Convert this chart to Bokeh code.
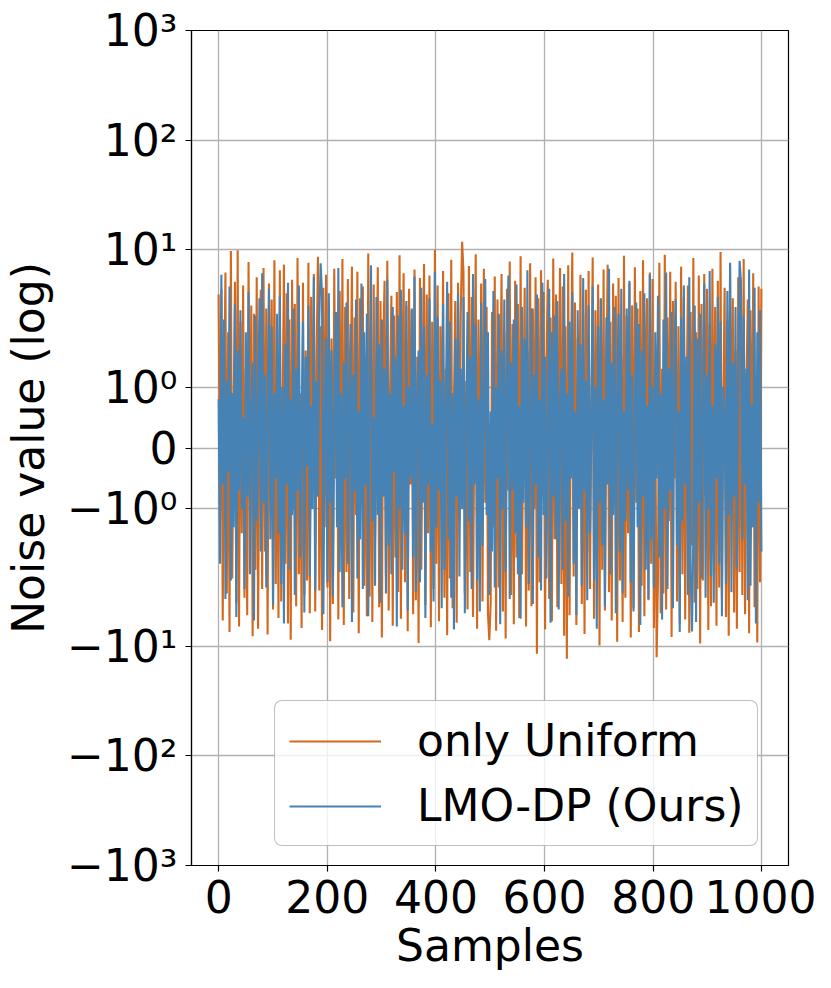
import numpy as np
from bokeh.plotting import figure
from bokeh.models import FixedTicker, CustomJSTickFormatter, Range1d
from bokeh.embed import file_html
from bokeh.resources import INLINE

# ---- data ----
only_uniform = [
    3.9, -1.2, 4.4, -5.8, 0.7, 6.2, -3.3, 1.9, -7.4, 9.7, -2.4, 0.5, 5.1, -4.0, 9.9, -6.6, 2.2, -1.4, 4.7, -3.6,
    1.3, -5.2, 7.7, -0.9, 3.1, -8.1, 2.6, -2.0, 5.6, -6.9, 0.8, 4.3, -3.0, 6.8, -1.7, 2.9, -7.8, 4.9, -0.6, 3.5,
    -4.6, 8.0, -2.7, 1.1, -5.5, 6.5, -3.9, 0.4, 7.3, -1.9, 4.0, -6.2, 2.3, -8.7, 5.3, -1.0, 3.2, -4.3, 8.4, -2.2,
    0.9, -6.8, 5.0, -3.4, 1.6, -2.5, 7.6, -5.0, 3.7, -0.7, 6.0, -4.8, 1.4, 8.6, -3.1, 2.0, -7.1, 4.5, -1.3, 5.9,
    -2.9, 3.3, -9.0, 1.8, -4.1, 6.7, -0.5, 2.7, -5.7, 4.2, -1.6, 8.2, -6.4, 3.0, -2.1, 5.4, -3.7, 0.6, 7.0, -4.9,
    2.4, -1.1, 6.3, -7.6, 3.6, -0.8, 4.6, -2.8, 1.2, -5.3, 9.2, -3.5, 2.1, -6.0, 4.8, -1.5, 0.3, 6.9, -4.4, 3.4,
    -8.3, 1.7, 5.2, -2.3, 7.9, -4.7, 0.9, 3.8, -6.5, 2.5, -1.8, 4.1, -3.2, 8.9, -5.6, 1.0, 6.1, -2.6, 3.1, -7.3,
    4.4, -0.6, 2.8, -5.1, 6.6, -3.8, 1.5, -9.3, 5.5, -2.0, 0.7, 7.4, -4.2, 3.9, -1.4, 5.8, -6.7, 2.2, -3.0, 10.0,
    -1.9, 4.7, -5.9, 2.0, -0.4, 6.4, -3.6, 1.3, -7.9, 4.0, -2.4, 8.1, -4.5, 0.8, 3.4, -6.1, 5.0, -1.2, 2.6, 11.8,
    6.2, -3.3, 1.1, -4.6, 7.1, -2.1, 3.7, -5.4, 0.5, 9.1, -6.9, 2.3, -1.6, 4.9, -3.9, 6.7, -0.9, 3.0, -5.0, -8.8,
    -4.0, 2.7, -1.3, 5.7, -7.2, 3.5, -2.9, 0.6, 6.0, -4.8, 1.9, -8.5, 4.4, -0.7, 7.8, -3.4, 2.1, -6.3, 5.2, -1.8,
    3.2, -5.5, 8.7, -2.2, 0.4, 4.5, -6.6, 1.6, -3.1, 7.5, -4.3, 2.9, -1.0, 5.6, -11.7, 3.6, -2.6, 6.5, -0.8, 4.1,
    -7.0, 1.4, 5.3, -3.7, 2.4, -5.9, 8.3, -1.5, 3.9, -4.4, 0.9, 6.8, -2.7, 4.6, -8.0, 2.0, -13.0, 7.2, -5.2, 1.2,
    9.4, -2.3, 3.3, -6.4, 1.8, -0.6, 5.9, -4.1, 2.6, -7.7, 4.3, -1.7, 6.4, -3.0, 0.5, 8.5, -5.6, 2.8, -1.1, 4.8,
    -9.8, 3.5, -2.0, 6.6, -4.7, 1.0, 7.3, -3.2, 2.2, -5.8, 4.9, -0.7, 3.8, -9.1, 5.5, -2.5, 1.5, -6.0, 8.8, -3.6,
    2.5, -1.4, 5.0, -8.3, 3.1, -4.5, 6.9, -0.9, 2.9, -7.4, 4.2, -2.8, 8.0, -5.3, 1.7, 3.6, -3.8, 6.2, -1.9, 5.4,
    -6.8, 0.8, -12.6, -2.4, 7.6, -5.0, 1.3, -3.3, 9.0, -4.6, 2.4, -1.2, 6.3, -8.2, 3.4, -0.5, 5.1, -3.9, 2.0, -6.2,
    7.0, -2.2, 3.7, -5.7, 0.6, 4.7, -7.5, 2.7, -1.6, 8.4, -4.0, 1.9, -3.0, 5.8, -9.4, 3.2, -2.5, 6.0, -0.8, 4.4,
    -7.1, 2.1, -4.3, 6.7, -1.5, 3.0, -6.5, 5.2, -2.9, 9.5, -3.7, 0.7, 4.5, -5.4, 2.3, -8.0, 7.1, -1.0, 3.6, -4.9,
    1.6, -6.9, 5.6, -2.1, 4.2, -3.4, 8.2, -5.1, 0.9, 3.5, -7.6, 2.8, -1.3, 6.1, -4.4, 1.1, -9.2, 4.6, -2.6, 4.4,
]
lmo_dp = [
    0.8, -1.9, 5.9, -0.6, 2.3, -3.7, 1.1, -0.4, 4.6, -2.5, 0.9, -1.3, 3.2, -5.4, 1.6, -0.7, 2.8, -1.0, 0.5, -3.0,
    1.9, -0.8, 4.1, -2.2, 0.6, 1.4, -5.8, 2.5, -1.2, 0.3, 3.6, -1.7, 6.1, -0.9, 1.2, -2.9, 0.7, 4.4, -1.5, 2.0,
    -4.2, 0.9, -0.5, 2.6, -1.4, 3.8, -2.7, 1.0, -6.2, 1.7, -0.6, 5.0, -2.0, 0.8, -1.1, 2.9, -3.4, 1.3, -0.7, 4.7,
    -1.8, 0.5, 2.2, -4.9, 1.5, -0.3, 3.1, -2.3, 0.7, -1.0, 5.6, -3.1, 1.1, -0.8, 2.4, 7.5, 3.9, -5.1, 0.6, 1.8,
    -2.6, 4.0, -0.9, 1.6, -3.5, 0.4, 2.7, -1.3, 6.8, -2.1, 0.9, -4.4, 1.4, -0.5, 3.3, -1.9, 0.8, 2.1, -6.0, 1.2,
    -0.7, 3.5, -2.4, 0.6, -1.5, 4.9, -3.0, 1.9, -0.6, 2.6, -5.3, 1.0, 7.2, -1.2, 0.5, -2.8, 3.7, -1.1, 1.7, -4.0,
    2.3, -0.8, 1.3, -3.3, 5.3, -1.6, 0.9, -2.2, 3.0, -0.4, 1.5, -6.6, 2.5, -1.0, 4.3, -2.0, 0.7, -1.4, 3.4, -4.7,
    1.0, -0.5, 2.9, -1.8, 5.7, -3.2, 0.8, 1.6, -2.6, 4.5, -0.9, 2.0, -5.5, 1.2, -0.6, 3.6, -1.7, 0.4, -3.9, 6.3,
    -1.3, 2.4, -0.7, 1.1, -4.5, 3.2, -2.0, 0.6, 5.1, -1.5, 2.2, -3.6, 0.9, -7.0, 1.8, -0.8, 4.0, -2.3, 1.3, -1.0,
    3.7, -5.0, 0.5, 2.7, -1.2, 1.5, -3.0, 6.0, -0.6, 2.1, -2.5, 0.8, -4.8, 3.3, -1.6, 0.7, 5.4, -1.1, 1.9, -3.4,
    0.6, -1.7, 4.2, -2.9, 1.0, -0.5, 2.6, -6.3, 1.6, -1.0, 3.5, -2.1, 0.9, 5.8, -3.7, 1.4, -0.7, 2.3, -1.4, 4.8,
    -2.2, 0.7, -5.6, 3.0, -0.9, 1.8, -1.3, 6.5, -2.7, 0.5, 2.9, -4.1, 1.2, -0.6, 3.9, -1.8, 0.8, -3.1, 5.0, -1.1,
    1.5, -2.4, 0.4, 4.4, -6.1, 1.9, -0.8, 2.5, -1.5, 3.4, -4.6, 0.7, 1.3, -2.0, 6.0, -1.2, 0.9, -3.5, 2.2, -0.5,
    4.1, -1.9, 0.6, -5.2, 2.8, -1.0, 1.7, -2.8, 5.5, -0.7, 1.1, -3.8, 3.1, -1.4, 0.5, 4.6, -2.5, 1.0, -6.9, 2.0,
    -0.9, 3.6, -1.6, 0.8, -4.3, 2.4, -0.6, 6.7, -2.2, 1.4, -1.1, 3.0, -5.0, 0.9, 2.6, -1.7, 4.4, -3.3, 0.6, -1.2,
    2.9, -0.7, 5.2, -2.6, 1.2, -4.8, 0.5, 3.3, -1.3, 2.1, -6.4, 1.6, -0.8, 4.0, -2.0, 0.7, -3.7, 5.9, -1.5, 1.0,
    -2.9, 1.9, -0.5, 3.8, -1.8, 0.9, -5.7, 2.3, -1.0, 6.2, -3.0, 1.3, -0.7, 2.7, -4.5, 1.1, 3.5, -1.6, 0.6, -7.4,
    2.4, -1.2, 4.7, -0.6, 1.5, -3.4, 5.6, -2.1, -7.3, -1.4, 3.1, -6.0, 1.8, -0.9, 2.6, -2.4, 0.5, 4.9, -3.6, 1.2,
    -1.0, 6.4, -2.3, 0.7, -4.0, 1.7, -0.5, 3.7, -1.9, 2.2, -5.3, 1.0, 0.6, -2.7, 4.2, -1.1, 7.6, -3.2, 1.4, -0.8,
    3.0, -2.0, 0.9, 7.9, 5.1, -1.5, 2.5, -0.6, 1.3, -3.8, 6.6, -2.8, 0.7, -1.3, 4.5, -6.2, 1.9, -0.9, 2.8, -1.7,
]
samples_u = np.linspace(0, 999, len(only_uniform))
samples_l = np.linspace(0, 999, len(lmo_dp))

x_ticks = [0, 200, 400, 600, 800, 1000]
y_tick_values = [-1000, -100, -10, -1, 0, 1, 10, 100, 1000]
y_tick_labels = ["\u221210\u00b3", "\u221210\u00b2", "\u221210\u00b9", "\u221210\u2070", "0",
                 "10\u2070", "10\u00b9", "10\u00b2", "10\u00b3"]


# symmetric-log axis transform (linthresh=2, linscale=1, base 10)
def symlog(v, linthresh=2.0, linscale=1.0, base=10.0):
    v = np.asarray(v, dtype=float)
    a = linscale / (1.0 - 1.0 / base)
    av = np.abs(v)
    logpart = np.sign(v) * linthresh * (a + np.log10(np.maximum(av, linthresh) / linthresh))
    return np.where(av <= linthresh, v * a, logpart)


FONT = "DejaVu Sans"
FS = "44px"

y_ticks_t = [float(t) for t in symlog(y_tick_values)]
ymax = float(symlog(1000))

p = figure(frame_width=597, frame_height=835, output_backend="svg", toolbar_location=None,
           min_border_left=191, min_border_top=30, min_border_right=28, min_border_bottom=10,
           x_range=Range1d(-49.95, 1048.95), y_range=Range1d(-ymax, ymax))

p.line(samples_u, symlog(only_uniform), line_color="#D2691E", line_width=2.1, legend_label="only Uniform")
p.line(samples_l, symlog(lmo_dp), line_color="#4682B4", line_width=2.1, legend_label="LMO-DP (Ours)")

p.xaxis.ticker = FixedTicker(ticks=x_ticks)
p.yaxis.ticker = FixedTicker(ticks=y_ticks_t)
p.yaxis.formatter = CustomJSTickFormatter(args=dict(tv=y_ticks_t, labels=y_tick_labels), code="""
    let best = 0; let bd = 1e9;
    for (let i = 0; i < tv.length; i++) { const d = Math.abs(tv[i] - tick); if (d < bd) { bd = d; best = i; } }
    return labels[best];
""")

for ax in (p.xaxis[0], p.yaxis[0]):
    ax.major_label_text_font = FONT
    ax.major_label_text_font_size = FS
    ax.major_label_text_color = "black"
    ax.axis_label_text_font = FONT
    ax.axis_label_text_font_size = FS
    ax.axis_label_text_font_style = "normal"
    ax.axis_label_text_color = "black"
    ax.minor_tick_line_color = None
    ax.major_tick_out = 6
    ax.major_tick_in = 0
    ax.major_tick_line_width = 1.2
    ax.axis_line_width = 1.2
    ax.major_tick_line_color = "black"
    ax.axis_line_color = "black"

p.xaxis.axis_label = "Samples"
p.yaxis.axis_label = "Noise value (log)"
p.xaxis.major_label_standoff = 8
p.xaxis.axis_label_standoff = 4
p.yaxis.major_label_standoff = 8
p.yaxis.axis_label_standoff = 10

p.grid.grid_line_color = "#b0b0b0"
p.grid.grid_line_width = 1.3

p.outline_line_color = "black"
p.outline_line_width = 1.2

lg = p.legend[0]
lg.location = (83, 19)
lg.label_text_font = FONT
lg.label_text_font_size = FS
lg.label_text_color = "black"
lg.glyph_width = 92
lg.glyph_height = 40
lg.label_standoff = 36
lg.padding = 14
lg.spacing = 14
lg.margin = 0
lg.border_line_color = "#7f7f7f"
lg.border_line_width = 1.5
lg.background_fill_alpha = 0.8
try:
    lg.border_radius = 8
except Exception:
    pass

open("out.html", "w").write(file_html(p, INLINE))
